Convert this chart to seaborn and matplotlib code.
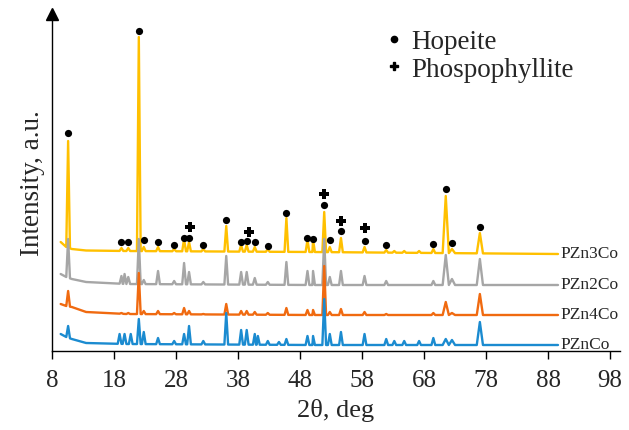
import matplotlib
matplotlib.use("Agg")
import matplotlib.pyplot as plt
from matplotlib.lines import Line2D
import numpy as np
import pandas as pd
import seaborn as sns

# --- data ------------------------------------------------------------------
samples = ["PZn3Co", "PZn2Co", "PZn4Co", "PZnCo"]   # drawn in this order (blue on top)
colors = ["#FFC000", "#A6A6A6", "#F06A10", "#1B8BD0"]

# baseline (2theta, intensity) for each pattern
base_x = [9.4, 10.3, 11.2, 13.5, 20.0, 50.0, 89.6]
base_pzn3co = [109, 104, 102, 100.5, 100, 99, 97]
base_pzn2co = [77, 74, 72, 69, 67, 66, 66]
base_pzn4co = [47, 45, 44, 39, 37, 36, 36]
base_pznco = [17, 14, 12, 8, 7, 6, 6]

# peak positions and peak-top intensities (None = no visible peak)
peak_2theta = [10.6, 18.9, 19.2, 19.7, 20.3, 20.7, 22.0, 22.8, 25.1, 27.7, 29.3, 30.1,
               32.4, 36.1, 38.5, 39.4, 40.7, 41.2, 42.8, 44.6, 45.8, 49.2, 50.1, 51.9,
               52.8, 54.6, 58.4, 61.9, 63.2, 64.8, 67.2, 69.5, 71.5, 72.5, 77.0]
peak_pzn3co = [210, None, 103, None, 103, None, 314, 104, 104, 102, 112, 109,
               102, 125, 106, 106, 104, None, 102, None, 133, 111, 111, 139,
               104, 113, 104, 101, 100, 100, 100, 102, 155, 102, 118]
peak_pzn2co = [112, None, 75, 77, 74, None, 112, 71, 80, 70, 88, 79,
               69, 95, 79, 79, 73, None, 69, None, 89, 80, 80, 112,
               74, 80, 75, 70, None, None, None, 70, 96, 72, 92]
peak_pzn4co = [60, None, 38, None, 38, None, 78, 40, 40, 38, 43, 40,
               37, 47, 40, 40, 39, None, 38, None, 43, 41, 41, 85,
               39, 42, 39, 37, None, None, None, 38, 49, 38, 57]
peak_pznco = [25, 17, None, 17, None, 17, 32, 19, 13, 10, 17, 25,
              10, 38, 21, 21, 17, 15, 10, 9, 12, 15, 15, 52,
              17, 19, 17, 12, 10, 10, 10, 13, 12, 11, 29]

# phase markers
hopeite_x = [10.6, 22.0, 19.2, 20.3, 22.8, 25.1, 27.7, 29.3, 30.1, 32.4, 36.1, 38.5,
             39.4, 40.7, 42.8, 45.7, 49.2, 50.1, 51.9, 52.8, 54.6, 58.4, 61.9, 69.5,
             71.5, 72.5, 77.0]
hopeite_y = [218, 320, 109, 109, 111, 109, 106, 113, 113, 106, 131, 109,
             110, 109, 105, 138, 113, 112, 146, 111, 120, 110, 106, 107,
             162, 108, 124]
phos_x = [30.2, 39.7, 51.9, 54.6, 58.4]
phos_y = [124, 119, 157, 130, 123]

x_ticks = [8, 18, 28, 38, 48, 58, 68, 78, 88, 98]

bases = [base_pzn3co, base_pzn2co, base_pzn4co, base_pznco]
peaks = [peak_pzn3co, peak_pzn2co, peak_pzn4co, peak_pznco]

# --- build long table of line vertices ------------------------------------
rows = []
for name, b, p in zip(samples, bases, peaks):
    pts = list(zip(base_x, b))
    for pos, top in zip(peak_2theta, p):
        if top is None:
            continue
        w = 0.5 if pos > 70 else 0.3
        for xx in (pos - w, pos + w):
            pts.append((xx, float(np.interp(xx, base_x, b))))
        pts.append((pos, top))
    pts.sort()
    for xx, yy in pts:
        rows.append({"2theta": xx, "intensity": yy, "sample": name})
df = pd.DataFrame(rows)

# --- plot ------------------------------------------------------------------
sns.set_theme(style="white")
plt.rcParams["font.family"] = ["Liberation Serif", "DejaVu Serif"]

fig, ax = plt.subplots(figsize=(6.29, 4.31), dpi=100)
fig.subplots_adjust(left=52 / 629, right=620 / 629, bottom=1 - 352 / 431, top=1 - 15 / 431)

sns.lineplot(data=df, x="2theta", y="intensity", hue="sample", hue_order=samples,
             palette=colors, estimator=None, sort=False, linewidth=1.7, legend=False, ax=ax)

ax.plot(hopeite_x, hopeite_y, "o", color="black", markersize=5.2, markeredgewidth=0)
ax.plot(phos_x, phos_y, "P", color="black", markersize=7.5, markeredgewidth=0)

for name, b in zip(samples, bases):
    ax.text(base_x[-1] + 0.4, b[-1] + 1, name, va="center", ha="left", fontsize=12.5)

ax.set_xlim(8, 99.6)
ax.set_ylim(0, 337)
ax.set_xticks(x_ticks)
ax.set_yticks([])
ax.tick_params(axis="x", direction="out", length=6, width=1, color="black",
               labelsize=18, pad=7, bottom=True)
ax.set_xlabel("2θ, deg", fontsize=19, labelpad=5)
ax.set_ylabel("Intensity, a.u.", fontsize=19.5, labelpad=5)

for s in ["top", "right"]:
    ax.spines[s].set_visible(False)
for s in ["left", "bottom"]:
    ax.spines[s].set_color("black")
    ax.spines[s].set_linewidth(1.0)
ax.plot(0, 1, marker="^", color="black", markersize=8, transform=ax.transAxes, clip_on=False)

handles = [Line2D([], [], marker="o", color="black", linestyle="none", markersize=4.5),
           Line2D([], [], marker="P", color="black", linestyle="none", markersize=6)]
ax.legend(handles, ["Hopeite", "Phospophyllite"], loc="upper left", bbox_to_anchor=(0.588, 0.955),
          frameon=False, fontsize=19.5, handlelength=0.6, handletextpad=0.35,
          labelspacing=0.1, borderpad=0, borderaxespad=0)

fig.savefig("out.png", dpi=100)
